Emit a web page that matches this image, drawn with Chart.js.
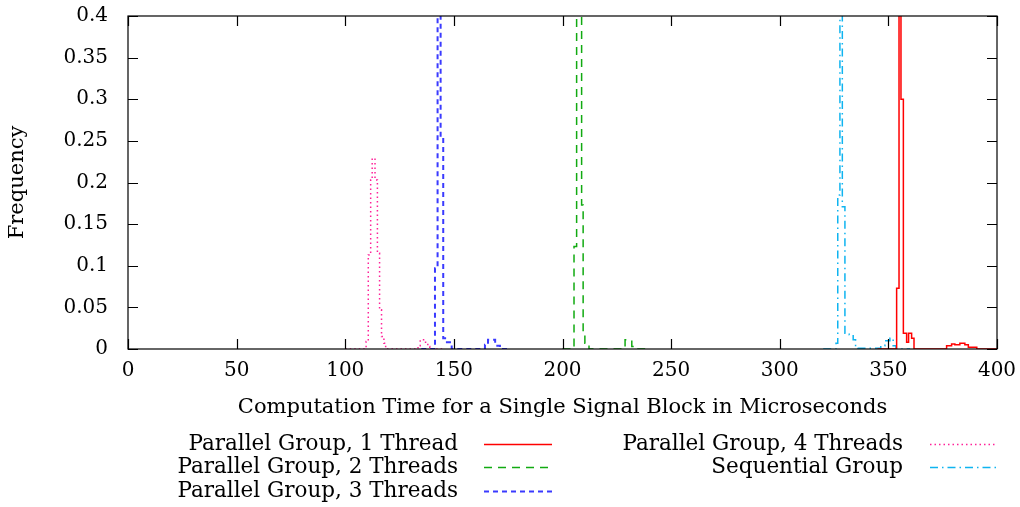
<!DOCTYPE html>
<html lang="en">
<head>
    <meta charset="UTF-8">
    <title>Computation Time Histogram</title>
    <script src="https://cdn.jsdelivr.net/npm/chart.js"></script>
    <style>
        body { margin: 0; background: #fff; }
        canvas { display: block; }
    </style>
</head>
<body>
    <canvas id="histChart" width="1020" height="507"></canvas>

    <script>
        // bin edges (microseconds) and frequencies, step held until the next edge
        const thread1X = [345, 353.8, 354.9, 355.8, 356.9, 358.4, 359.3, 360.7, 361.8, 376.8, 379.1, 380.6, 382.9, 385.2, 386.8, 390.7, 400];
        const thread1Y = [0, 0.073, 0.6, 0.30, 0.019, 0.008, 0.019, 0.013, 0, 0.004, 0.006, 0.005, 0.007, 0.005, 0.002, 0, 0];

        const thread2X = [200, 205.3, 206.5, 208.8, 209.5, 210.3, 212.2, 228.8, 231.9, 234.2, 240];
        const thread2Y = [0, 0.123, 0.6, 0.173, 0.021, 0.007, 0, 0.011, 0.003, 0, 0];

        const thread3X = [135, 141.3, 142.5, 143.9, 145.1, 146.8, 149, 164.3, 165.7, 169, 171.2, 175];
        const thread3Y = [0, 0.097, 0.6, 0.255, 0.013, 0.008, 0, 0.005, 0.011, 0.004, 0, 0];

        const thread4X = [100, 109.6, 110.6, 111.7, 112.4, 113.7, 114.8, 115.8, 116.7, 117.8, 118.6, 133.5, 134.5, 136.6, 138, 138.9, 145];
        const thread4Y = [0, 0.009, 0.113, 0.203, 0.229, 0.203, 0.115, 0.047, 0.015, 0.007, 0, 0.004, 0.011, 0.008, 0.003, 0, 0];

        const seqX = [320, 325.9, 326.7, 327.7, 328.8, 330, 332, 333.8, 334.9, 336, 346.5, 348.4, 350.7, 352.2, 353.5, 360];
        const seqY = [0, 0.007, 0.185, 0.6, 0.171, 0.019, 0.017, 0.011, 0.003, 0.001, 0.004, 0.01, 0.013, 0.004, 0, 0];

        const xTickLabels = ['0', '50', '100', '150', '200', '250', '300', '350', '400'];
        const yTickLabels = ['0', '0.05', '0.1', '0.15', '0.2', '0.25', '0.3', '0.35', '0.4'];

        const FONT = "'DejaVu Serif', serif";

        function pts(xs, ys) {
            return xs.map((x, i) => ({ x: x, y: ys[i] }));
        }

        const series = [
            { label: 'Parallel Group, 1 Thread', data: pts(thread1X, thread1Y), borderColor: '#ff0000', borderDash: [], borderWidth: 1.5 },
            { label: 'Parallel Group, 2 Threads', data: pts(thread2X, thread2Y), borderColor: '#11aa11', borderDash: [8, 6], borderWidth: 1.5 },
            { label: 'Parallel Group, 3 Threads', data: pts(thread3X, thread3Y), borderColor: '#3a3aff', borderDash: [5, 4], borderWidth: 2 },
            { label: 'Parallel Group, 4 Threads', data: pts(thread4X, thread4Y), borderColor: '#ff2299', borderDash: [1.5, 3], borderWidth: 1.5 },
            { label: 'Sequential Group', data: pts(seqX, seqY), borderColor: '#0fb4f0', borderDash: [8, 4, 1.5, 4], borderWidth: 1.5 }
        ];

        // frame, inward mirrored ticks and gnuplot-style key
        const framePlugin = {
            id: 'frame',
            afterDraw(chart) {
                const ctx = chart.ctx;
                const a = chart.chartArea;
                const xs = chart.scales.x, ys = chart.scales.y;
                ctx.save();
                ctx.strokeStyle = '#000';
                ctx.lineWidth = 1.2;
                ctx.setLineDash([]);
                ctx.strokeRect(a.left, a.top, a.right - a.left, a.bottom - a.top);
                ctx.beginPath();
                xs.ticks.forEach(t => {
                    const px = Math.round(xs.getPixelForValue(t.value)) + 0.5;
                    ctx.moveTo(px, a.bottom); ctx.lineTo(px, a.bottom - 10);
                    ctx.moveTo(px, a.top); ctx.lineTo(px, a.top + 10);
                });
                ys.ticks.forEach(t => {
                    const py = Math.round(ys.getPixelForValue(t.value)) + 0.5;
                    ctx.moveTo(a.left, py); ctx.lineTo(a.left + 10, py);
                    ctx.moveTo(a.right, py); ctx.lineTo(a.right - 10, py);
                });
                ctx.stroke();

                // key in two columns
                const cols = [{ textRight: 458, lineFrom: 484, lineTo: 552 }, { textRight: 903, lineFrom: 930, lineTo: 997 }];
                const rows = [444, 467, 491];
                const order = [[0, 0], [0, 1], [0, 2], [1, 0], [1, 1]];
                ctx.font = '21.5px ' + FONT;
                ctx.textAlign = 'right';
                ctx.textBaseline = 'middle';
                ctx.fillStyle = '#000';
                chart.data.datasets.forEach((ds, i) => {
                    const c = cols[order[i][0]], y = rows[order[i][1]];
                    ctx.fillText(ds.label, c.textRight, y);
                    ctx.strokeStyle = ds.borderColor;
                    ctx.lineWidth = ds.borderWidth;
                    ctx.setLineDash(ds.borderDash);
                    ctx.beginPath();
                    ctx.moveTo(c.lineFrom, y + 0.5);
                    ctx.lineTo(c.lineTo, y + 0.5);
                    ctx.stroke();
                });
                ctx.restore();
            }
        };

        const ctx = document.getElementById('histChart').getContext('2d');
        new Chart(ctx, {
            type: 'line',
            data: {
                datasets: series.map(s => Object.assign({}, s, {
                    stepped: 'before',
                    pointRadius: 0,
                    fill: false,
                    tension: 0
                }))
            },
            options: {
                responsive: false,
                animation: false,
                events: [],
                layout: { padding: { top: 16, right: 23, bottom: 83, left: 0 } },
                plugins: { legend: { display: false }, tooltip: { enabled: false } },
                scales: {
                    x: {
                        type: 'linear',
                        min: 0,
                        max: 400,
                        afterFit: s => { s.height = 75; s.paddingLeft = 0; s.paddingRight = 0; },
                        grid: { display: false, drawTicks: false },
                        border: { display: false },
                        ticks: {
                            stepSize: 50,
                            padding: 10,
                            color: '#000',
                            maxRotation: 0,
                            font: { family: FONT, size: 20 },
                            callback: (v, i) => xTickLabels[i]
                        },
                        title: {
                            display: true,
                            text: 'Computation Time for a Single Signal Block in Microseconds',
                            color: '#000',
                            font: { family: FONT, size: 21 },
                            padding: { top: 0, bottom: 4 }
                        }
                    },
                    y: {
                        min: 0,
                        max: 0.4,
                        afterFit: s => { s.width = 128; s.paddingTop = 0; s.paddingBottom = 0; },
                        grid: { display: false, drawTicks: false },
                        border: { display: false },
                        ticks: {
                            stepSize: 0.05,
                            padding: 20,
                            color: '#000',
                            font: { family: FONT, size: 20 },
                            callback: (v, i) => yTickLabels[i]
                        },
                        title: {
                            display: true,
                            text: 'Frequency',
                            color: '#000',
                            font: { family: FONT, size: 21 },
                            padding: { top: 5, bottom: 0 }
                        }
                    }
                }
            },
            plugins: [framePlugin]
        });
    </script>
</body>
</html>
